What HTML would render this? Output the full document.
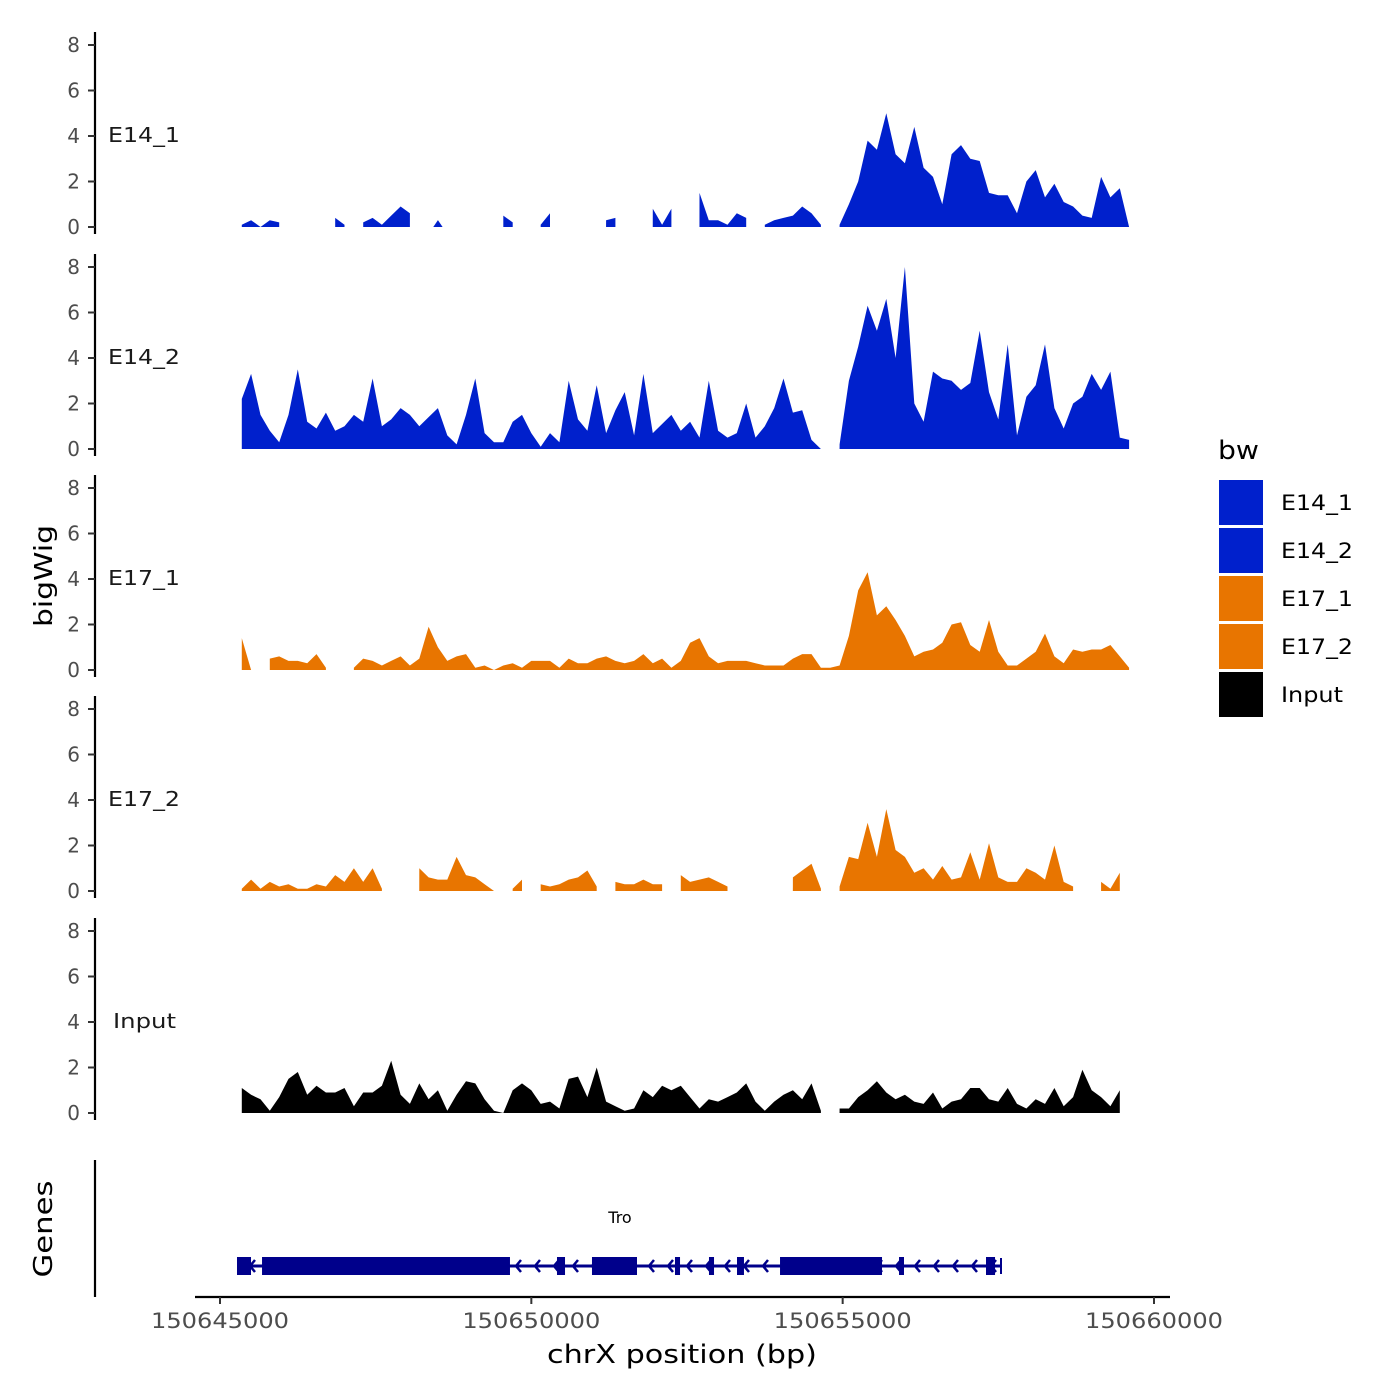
<!DOCTYPE html>
<html><head><meta charset="utf-8"><style>
body{margin:0;background:#fff}
svg{display:block;font-family:"DejaVu Sans","Liberation Sans",sans-serif}
</style></head><body>
<svg id="chart" width="1400" height="1400" viewBox="0 0 1400 1400" xmlns="http://www.w3.org/2000/svg"></svg>
<script>
const trackNames = ["E14_1","E14_2","E17_1","E17_2","Input"];
const trackColors = ["#0020cc","#0020cc","#e87500","#e87500","#000000"];
const binStart = 150645350;
const binStep = 150;
const yTicks = [0,2,4,6,8];
const xTicks = [150645000,150650000,150655000,150660000];
const N = null;
const e14_1 = [0.1,0.3,0,0.3,0.2,N,N,N,N,N,0.4,0.1,N,0.2,0.4,0.1,0.5,0.9,0.6,N,N,0.3,N,N,N,N,N,N,0.5,0.2,N,N,0.1,0.6,N,N,N,N,N,0.3,0.4,N,N,N,0.8,0.1,0.8,N,N,1.5,0.3,0.3,0.1,0.6,0.4,N,0.1,0.3,0.4,0.5,0.9,0.6,0.1,N,0.1,1.0,2.0,3.8,3.4,5.0,3.2,2.8,4.4,2.6,2.2,1.0,3.2,3.6,3.0,2.9,1.5,1.4,1.4,0.6,2.0,2.5,1.3,1.9,1.1,0.9,0.5,0.4,2.2,1.3,1.7,0];
const e14_2 = [2.2,3.3,1.5,0.8,0.3,1.5,3.5,1.2,0.9,1.6,0.8,1.0,1.5,1.2,3.1,1.0,1.3,1.8,1.5,1.0,1.4,1.8,0.6,0.2,1.5,3.1,0.7,0.3,0.3,1.2,1.5,0.7,0.1,0.7,0.3,3.0,1.3,0.8,2.8,0.7,1.7,2.5,0.6,3.3,0.7,1.1,1.5,0.8,1.2,0.5,3.0,0.8,0.5,0.7,2.0,0.5,1.0,1.8,3.1,1.6,1.7,0.4,0,N,0.2,3.0,4.5,6.3,5.2,6.6,4.0,8.0,2.0,1.2,3.4,3.1,3.0,2.6,2.9,5.2,2.5,1.3,4.6,0.6,2.3,2.8,4.6,1.8,0.9,2.0,2.3,3.3,2.6,3.4,0.5,0.4];
const e17_1 = [1.4,0,N,0.5,0.6,0.4,0.4,0.3,0.7,0.1,N,N,0.1,0.5,0.4,0.2,0.4,0.6,0.2,0.5,1.9,1.0,0.4,0.6,0.7,0.1,0.2,0,0.2,0.3,0.1,0.4,0.4,0.4,0.1,0.5,0.3,0.3,0.5,0.6,0.4,0.3,0.4,0.7,0.3,0.5,0.1,0.4,1.2,1.4,0.6,0.3,0.4,0.4,0.4,0.3,0.2,0.2,0.2,0.5,0.7,0.7,0.1,0.1,0.2,1.5,3.5,4.3,2.4,2.8,2.2,1.5,0.6,0.8,0.9,1.2,2.0,2.1,1.1,0.8,2.2,0.8,0.2,0.2,0.5,0.8,1.6,0.6,0.3,0.9,0.8,0.9,0.9,1.1,0.6,0.1];
const e17_2 = [0.1,0.5,0.1,0.4,0.2,0.3,0.1,0.1,0.3,0.2,0.7,0.4,1.0,0.4,1.0,0.1,N,N,N,1.0,0.6,0.5,0.5,1.5,0.7,0.6,0.3,0,N,0.1,0.5,N,0.3,0.2,0.3,0.5,0.6,0.9,0.2,N,0.4,0.3,0.3,0.5,0.3,0.3,N,0.7,0.4,0.5,0.6,0.4,0.2,N,N,N,N,N,N,0.6,0.9,1.2,0.1,N,0.2,1.5,1.4,3.0,1.5,3.6,1.8,1.5,0.8,1.0,0.5,1.1,0.5,0.6,1.7,0.5,2.1,0.6,0.4,0.4,1.0,0.8,0.5,2.0,0.4,0.2,N,N,0.4,0.1,0.8,N];
const input = [1.1,0.8,0.6,0.1,0.7,1.5,1.8,0.8,1.2,0.9,0.9,1.1,0.3,0.9,0.9,1.2,2.3,0.8,0.4,1.3,0.6,1.0,0.1,0.8,1.4,1.3,0.6,0.1,0,1.0,1.3,1.0,0.4,0.5,0.2,1.5,1.6,0.7,2.0,0.5,0.3,0.1,0.2,1.0,0.7,1.2,1.0,1.2,0.7,0.2,0.6,0.5,0.7,0.9,1.3,0.5,0.1,0.5,0.8,1.0,0.6,1.3,0.1,N,0.2,0.2,0.7,1.0,1.4,0.9,0.6,0.8,0.5,0.4,0.9,0.2,0.5,0.6,1.1,1.1,0.6,0.5,1.1,0.4,0.2,0.6,0.4,1.1,0.3,0.7,1.9,1.0,0.7,0.3,1.0,N];
const trackValues = [e14_1,e14_2,e17_1,e17_2,input];
const geneStart = 150645289, geneEnd = 150657543;
const exonStarts = [150645273,150645675,150650412,150650974,150652307,150652853,150653303,150653994,150655905,150657302];
const exonEnds   = [150645498,150649657,150650541,150651697,150652388,150652934,150653415,150655632,150655985,150657447];

const NS="http://www.w3.org/2000/svg";
const svg=document.getElementById('chart');
function mk(tag,attrs,parent){const e=document.createElementNS(NS,tag);for(const k in attrs)e.setAttribute(k,attrs[k]);(parent||svg).appendChild(e);return e;}
function xS(bp){return 220+(bp-150645000)*934/15000;}
const bases=[227,449,670,891,1113];
const unit=22.75;
function yS(p,v){return bases[p]-v*unit;}
const half=binStep*934/15000/2;

for(let p=0;p<5;p++){
  const g=mk('g',{});
  
  
  const ax=mk('line',{x1:95,x2:95,y1:bases[p]-195,y2:bases[p]+7,stroke:'#000','stroke-width':2.2},g);
  
  
  for(const t of yTicks){
    const tk=mk('line',{x1:88,x2:95,y1:yS(p,t),y2:yS(p,t),stroke:'#333','stroke-width':2},g);
    
    
    const tl=mk('text',{x:80,y:yS(p,t)+7,'text-anchor':'end','font-size':20,fill:'#4d4d4d'},g);
    tl.textContent=t;
    
    
  }
  const isInput=trackNames[p]==='Input';
  const lab=mk('text',{x:isInput?113:108,y:bases[p]-85,'font-size':20,fill:'#1a1a1a',textLength:isInput?63:72,lengthAdjust:'spacingAndGlyphs'},g);
  lab.textContent=trackNames[p];
  
  
  const vals=trackValues[p];
  let seg=[];
  const flush=()=>{
    if(seg.length===1){
      const x=seg[0][0];
      const a=mk('path',{d:'M'+(x-half)+','+bases[p]+'L'+x+','+seg[0][1]+'L'+(x+half)+','+bases[p]+'Z',fill:trackColors[p]},g);
      
      
    } else if(seg.length>1){
      let d='M'+seg[0][0]+','+bases[p];
      for(const s of seg)d+='L'+s[0].toFixed(1)+','+s[1].toFixed(1);
      d+='L'+seg[seg.length-1][0].toFixed(1)+','+bases[p]+'Z';
      const a=mk('path',{d:d,fill:trackColors[p]},g);
      
      
    }
    seg=[];
  };
  for(let i=0;i<vals.length;i++){
    if(vals[i]===null){flush();continue;}
    seg.push([xS(binStart+i*binStep),yS(p,vals[i])]);
  }
  flush();
}

const yt=mk('text',{x:0,y:0,transform:'translate(52,576) rotate(-90)','text-anchor':'middle','font-size':25,fill:'#000',textLength:102,lengthAdjust:'spacingAndGlyphs'});
yt.textContent='bigWig';



const gg=mk('g',{});


const gax=mk('line',{x1:95,x2:95,y1:1160,y2:1297,stroke:'#000','stroke-width':2.2},gg);


const gt=mk('text',{x:0,y:0,transform:'translate(52,1229) rotate(-90)','text-anchor':'middle','font-size':26,fill:'#000',textLength:97,lengthAdjust:'spacingAndGlyphs'},gg);
gt.textContent='Genes';


const gl=mk('line',{x1:xS(geneStart),x2:xS(geneEnd),y1:1266,y2:1266,stroke:'#00008b','stroke-width':3},gg);


const endt=mk('line',{x1:xS(geneEnd),x2:xS(geneEnd),y1:1258,y2:1274,stroke:'#00008b','stroke-width':2},gg);


for(let x=xS(geneStart)+12;x<xS(geneEnd)-8;x+=19){
  const ar=mk('path',{d:'M'+(x+5)+',1260L'+x+',1266L'+(x+5)+',1272',fill:'none',stroke:'#00008b','stroke-width':2.5},gg);
  
  
}
for(let i=0;i<exonStarts.length;i++){
  const r=mk('rect',{x:xS(exonStarts[i]),y:1257,width:xS(exonEnds[i])-xS(exonStarts[i]),height:18,fill:'#00008b'},gg);
  
  
}
const gn=mk('text',{x:620,y:1223,'text-anchor':'middle','font-size':16,fill:'#000'},gg);
gn.textContent='Tro';



const xa=mk('line',{x1:195,x2:1170,y1:1297,y2:1297,stroke:'#000','stroke-width':2.2});


for(const t of xTicks){
  const tk=mk('line',{x1:xS(t),x2:xS(t),y1:1297,y2:1304,stroke:'#333','stroke-width':2});
  
  
  const tl=mk('text',{x:xS(t),y:1328,'text-anchor':'middle','font-size':21,fill:'#4d4d4d',textLength:138,lengthAdjust:'spacingAndGlyphs'});
  tl.textContent=t;
  
  
}
const xt=mk('text',{x:682,y:1363,'text-anchor':'middle','font-size':26,fill:'#000',textLength:270,lengthAdjust:'spacingAndGlyphs'});
xt.textContent='chrX position (bp)';



const lg=mk('g',{});


const lt=mk('text',{x:1218,y:459,'font-size':26,fill:'#000',textLength:41,lengthAdjust:'spacingAndGlyphs'},lg);
lt.textContent='bw';


const legColors=["#0020cc","#0020cc","#e87500","#e87500","#000000"];
for(let i=0;i<5;i++){
  const r=mk('rect',{x:1219,y:480+i*48,width:44,height:45,fill:legColors[i]},lg);
  
  
  const t=mk('text',{x:1281,y:510+i*48,'font-size':21,fill:'#000',textLength:i===4?62:72,lengthAdjust:'spacingAndGlyphs'},lg);
  t.textContent=trackNames[i];
  
  
}
</script>
</body></html>
